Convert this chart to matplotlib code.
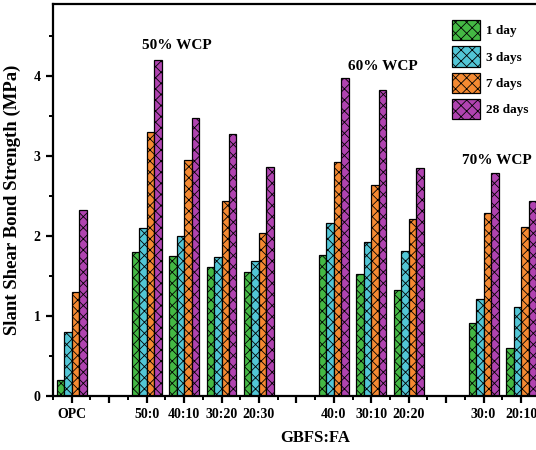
import numpy as np
import matplotlib
matplotlib.use("Agg")
import matplotlib.pyplot as plt

plt.rcParams['font.family'] = ['Liberation Serif', 'DejaVu Serif']
plt.rcParams['font.weight'] = 'bold'
plt.rcParams['hatch.linewidth'] = 0.6
plt.rcParams['hatch.color'] = '#2a2a2a'

# Mix labels (blank slots separate the WCP groups)
categories = ["OPC", "", "50:0", "40:10", "30:20", "20:30", "",
              "40:0", "30:10", "20:20", "", "30:0", "20:10"]
positions = [0, 2, 3, 4, 5, 7, 8, 9, 11, 12]

day1 = [0.20, 1.80, 1.75, 1.61, 1.55, 1.76, 1.52, 1.32, 0.91, 0.60]
day3 = [0.80, 2.10, 2.00, 1.74, 1.69, 2.16, 1.92, 1.81, 1.21, 1.11]
day7 = [1.30, 3.30, 2.95, 2.43, 2.04, 2.93, 2.63, 2.21, 2.28, 2.11]
day28 = [2.32, 4.20, 3.48, 3.28, 2.86, 3.97, 3.83, 2.85, 2.78, 2.43]

series = [("1 day", day1, "#44b944"),
          ("3 days", day3, "#52c6d6"),
          ("7 days", day7, "#f58a32"),
          ("28 days", day28, "#b043b0")]

group_labels = ["50% WCP", "60% WCP", "70% WCP"]

fig = plt.figure(figsize=(5.36, 4.5), dpi=100)
ax = fig.add_axes([0.0989, 0.1207, 0.978, 0.8703])

x = np.array(positions, dtype=float)
w = 0.2
offsets = [-0.3, -0.1, 0.1, 0.3]
handles = []
for (lab, vals, col), off in zip(series, offsets):
    b = ax.bar(x + off, vals, width=w, color=col, edgecolor='black',
               linewidth=0.9, hatch='xxx', label=lab)
    handles.append(b)

ax.set_xlim(-0.47, 13.5)
ax.set_ylim(0, 4.9)
ax.set_xticks(np.arange(len(categories)))
ax.set_xticklabels(categories)
ax.set_xticks(np.arange(-0.5, 13.5, 1.0), minor=True)
ax.set_yticks([0, 1, 2, 3, 4])
ax.set_yticks(np.arange(0.5, 4.9, 1.0), minor=True)

for s in ax.spines.values():
    s.set_linewidth(1.6)
ax.spines['right'].set_visible(False)

ax.tick_params(axis='both', which='major', direction='out', length=5,
               width=1.6, labelsize=10, pad=4)
ax.tick_params(axis='both', which='minor', direction='out', length=3,
               width=1.4)
for t in ax.get_xticklabels() + ax.get_yticklabels():
    t.set_fontweight('bold')

ax.set_ylabel("Slant Shear Bond Strength (MPa)", fontsize=13.5,
              fontweight='bold', labelpad=9)
ax.set_xlabel("GBFS:FA", fontsize=12, fontweight='bold', labelpad=6)

ax.text(2.8, 4.38, group_labels[0], ha='center', va='center',
        fontsize=11, fontweight='bold')
ax.text(8.3, 4.12, group_labels[1], ha='center', va='center',
        fontsize=11, fontweight='bold')
ax.text(11.35, 2.94, group_labels[2], ha='center', va='center',
        fontsize=11, fontweight='bold')

leg = fig.legend(handles=handles, loc='upper left',
                 bbox_to_anchor=(0.822, 0.982), frameon=False,
                 handlelength=2.1, handleheight=2.0, labelspacing=0.45,
                 handletextpad=0.45, prop={'family': 'Liberation Serif',
                                           'weight': 'bold', 'size': 9.5})

fig.savefig("out.png", dpi=100)
